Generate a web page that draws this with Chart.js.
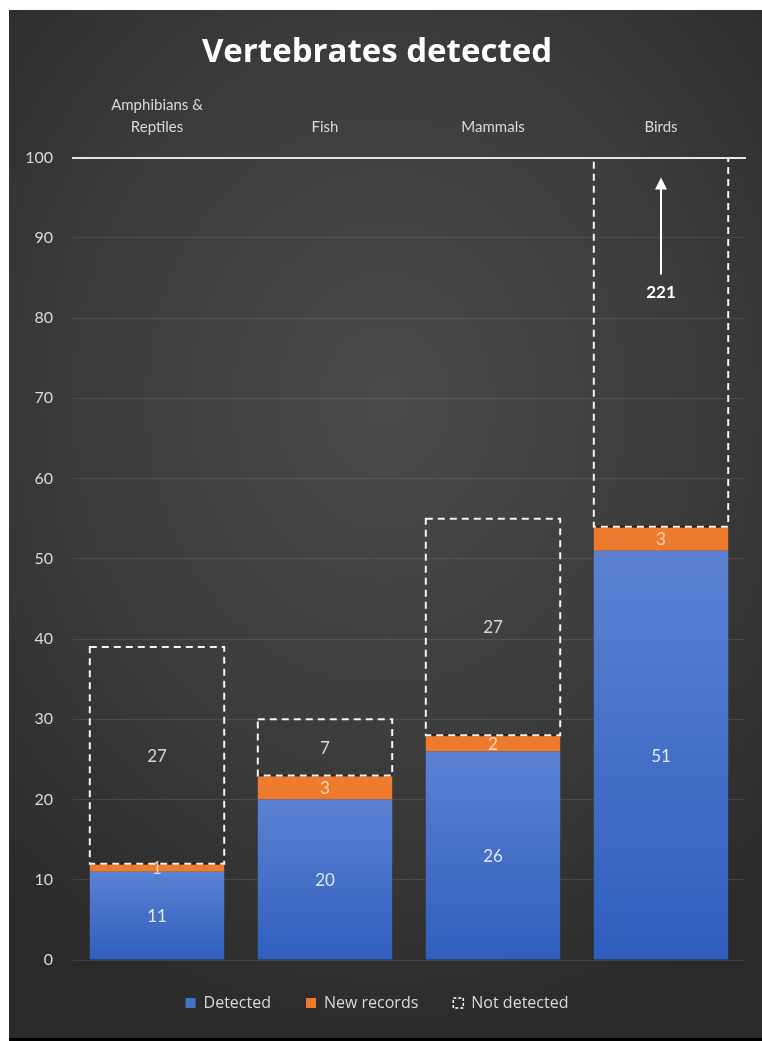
<!DOCTYPE html>
<html>
<head>
<meta charset="utf-8">
<title>Vertebrates detected</title>
<script src="https://cdn.jsdelivr.net/npm/chart.js@4/dist/chart.umd.min.js"></script>
<style>
  html, body { margin: 0; padding: 0; background: #fff; }
  #panel {
    position: absolute; left: 9px; top: 10px; width: 753px; height: 1028px;
    background: radial-gradient(ellipse 75% 65% at 50% 38%, #4a4a4a 0%, #3d3d3d 50%, #2a2a2a 100%);
  }
  #shade { position: absolute; left: 9px; top: 1038px; width: 753px; height: 3px; background: #000; }
  canvas { display: block; }
</style>
</head>
<body>
<div id="panel"><canvas id="chart" width="753" height="1028"></canvas></div>
<div id="shade"></div>
<script>
"use strict";

const CATEGORIES = [["Amphibians &", "Reptiles"], "Fish", "Mammals", "Birds"];
const DETECTED = [11, 20, 26, 51];
const NEW_RECORDS = [1, 3, 2, 3];
const NOT_DETECTED = [27, 7, 27, 221];
const Y_TICKS = { min: 0, max: 100, step: 10 };

const FONT = "Lato, 'Open Sans', sans-serif";
const WIDE_FONT = "'Open Sans', Lato, sans-serif";
const TEXT = "#d9d9d9";

// Blue fill fades from light at the top of each bar to deeper at its base.
function blueFill(ctx) {
  const chart = ctx.chart;
  const y = chart.scales && chart.scales.y;
  if (!chart.chartArea || !y || ctx.type !== "data") return "#4472c4";
  const top = y.getPixelForValue(ctx.raw);
  const bottom = y.getPixelForValue(0);
  const g = chart.ctx.createLinearGradient(0, top, 0, bottom);
  g.addColorStop(0, "#5b82d2");
  g.addColorStop(1, "#2f5ebe");
  return g;
}

// Not-detected segments are outlined with a dashed white box, clipped to the plot.
const dashedBoxes = {
  id: "dashedBoxes",
  afterDatasetsDraw(chart) {
    const meta = chart.getDatasetMeta(2);
    const area = chart.chartArea;
    const c = chart.ctx;
    c.save();
    c.beginPath();
    c.rect(area.left - 4, area.top, area.right - area.left + 8, area.bottom - area.top);
    c.clip();
    meta.data.forEach((bar) => {
      const left = bar.x - bar.width / 2;
      const top = Math.min(bar.y, bar.base);
      const h = Math.abs(bar.base - bar.y);
      // dark under-stroke where the box sits on the orange segment
      c.setLineDash([]);
      c.strokeStyle = "rgba(40,20,10,0.8)";
      c.lineWidth = 2;
      c.beginPath();
      c.moveTo(left, bar.base);
      c.lineTo(left + bar.width, bar.base);
      c.stroke();
      c.setLineDash([7, 5]);
      c.strokeStyle = "#f4f4f4";
      c.strokeRect(left, top, bar.width, h);
    });
    c.restore();
  },
};

// Value labels centred in each visible segment; a bar running past the axis
// gets an upward arrow with its value instead.
const segmentLabels = {
  id: "segmentLabels",
  afterDatasetsDraw(chart) {
    const c = chart.ctx;
    const area = chart.chartArea;
    const colors = ["rgba(240,244,255,0.9)", "rgba(255,228,205,0.85)", "#d6d6d6"];
    c.save();
    c.textAlign = "center";
    c.textBaseline = "middle";
    chart.data.datasets.forEach((ds, di) => {
      chart.getDatasetMeta(di).data.forEach((bar, i) => {
        const val = ds.data[i];
        const top = Math.min(bar.y, bar.base);
        const bottom = Math.max(bar.y, bar.base);
        if (top < area.top) {
          const x = bar.x;
          const tip = area.top + 20;
          const tail = area.top + 117;
          c.strokeStyle = "#ffffff";
          c.fillStyle = "#ffffff";
          c.lineWidth = 2;
          c.beginPath();
          c.moveTo(x, tail);
          c.lineTo(x, tip + 10);
          c.stroke();
          c.beginPath();
          c.moveTo(x, tip);
          c.lineTo(x - 6, tip + 12);
          c.lineTo(x + 6, tip + 12);
          c.closePath();
          c.fill();
          c.font = "bold 17px " + FONT;
          c.fillText(String(val), x, tail + 18);
          return;
        }
        c.fillStyle = colors[di];
        c.font = "17px " + FONT;
        c.fillText(String(val), bar.x, (top + bottom) / 2 + 1);
      });
    });
    c.restore();
  },
};

const chart = new Chart(document.getElementById("chart"), {
  type: "bar",
  data: {
    labels: CATEGORIES,
    datasets: [
      { label: "Detected", data: DETECTED, backgroundColor: blueFill, borderWidth: 0 },
      { label: "New records", data: NEW_RECORDS, backgroundColor: "#ee7b2d", borderWidth: 0 },
      { label: "Not detected", data: NOT_DETECTED, backgroundColor: "rgba(0,0,0,0)", borderWidth: 0 },
    ],
  },
  options: {
    responsive: false,
    animation: false,
    events: [],
    datasets: { bar: { categoryPercentage: 0.8, barPercentage: 1 } },
    layout: { padding: { left: 0, right: 17, top: 0, bottom: 17 } },
    scales: {
      x: {
        position: "top",
        stacked: true,
        grid: { display: false, drawTicks: false },
        border: { display: true, color: "#e6e6e6", width: 2 },
        ticks: { color: TEXT, padding: 19, font: { family: FONT, size: 15, lineHeight: 1.5 } },
        afterFit(scale) { scale.height = 79; },
      },
      y: {
        stacked: true,
        min: Y_TICKS.min,
        max: Y_TICKS.max,
        grid: { color: "rgba(255,255,255,0.09)", drawTicks: false },
        border: { display: false },
        ticks: { stepSize: Y_TICKS.step, color: TEXT, padding: 20, font: { family: FONT, size: 16 } },
        afterFit(scale) { scale.width = 64; },
      },
    },
    plugins: {
      title: {
        display: true,
        text: "Vertebrates detected",
        color: "#ffffff",
        font: { family: WIDE_FONT, size: 33, weight: "bold", lineHeight: 1.2 },
        padding: { top: 23, bottom: 6 },
      },
      legend: {
        position: "bottom",
        labels: {
          color: TEXT,
          boxWidth: 10,
          boxHeight: 10,
          padding: 35,
          font: { family: WIDE_FONT, size: 16 },
          generateLabels(ch) {
            const fills = ["#4472c4", "#ee7b2d", "rgba(0,0,0,0)"];
            return ch.data.datasets.map((ds, i) => ({
              text: ds.label,
              fillStyle: fills[i],
              strokeStyle: i === 2 ? "#ffffff" : fills[i],
              lineWidth: i === 2 ? 1.5 : 0,
              lineDash: i === 2 ? [3, 2] : [],
              fontColor: TEXT,
              hidden: false,
              datasetIndex: i,
            }));
          },
        },
      },
      tooltip: { enabled: false },
    },
  },
  plugins: [dashedBoxes, segmentLabels],
});
</script>
</body>
</html>
